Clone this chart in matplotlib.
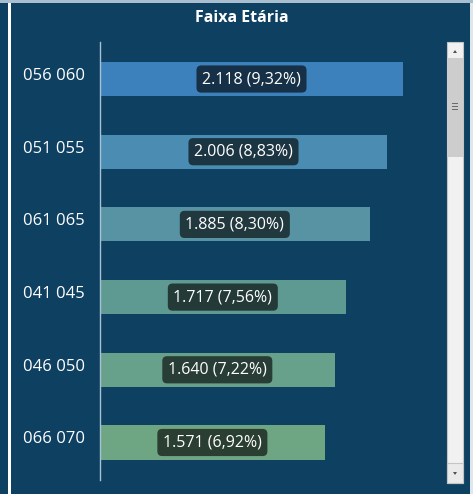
import matplotlib
matplotlib.use('Agg')
import matplotlib.pyplot as plt
from matplotlib.patches import Rectangle, Polygon

faixas = ['056 060', '051 055', '061 065', '041 045', '046 050', '066 070']
valores = [2118, 2006, 1885, 1717, 1640, 1571]
percent = ['9,32%', '8,83%', '8,30%', '7,56%', '7,22%', '6,92%']
cores = ['#3c81bb', '#4a8cb2', '#5893a4', '#5f9a92', '#68a18b', '#6ea684']

bg = '#0e4062'
W, H = 473, 494

fig = plt.figure(figsize=(W / 100, H / 100), dpi=100, facecolor=bg)
plt.rcParams['font.family'] = ['Open Sans', 'DejaVu Sans']


def px(x0, y0, x1, y1):
    # pixel box -> figure fraction rect
    return [x0 / W, 1 - y1 / H, (x1 - x0) / W, (y1 - y0) / H]


def rect(x0, y0, x1, y1, **kw):
    r = px(x0, y0, x1, y1)
    fig.patches.append(Rectangle((r[0], r[1]), r[2], r[3],
                                 transform=fig.transFigure, **kw))


ax = fig.add_axes(px(100, 42, 430, 480))
ax.set_facecolor(bg)
pos = list(range(len(faixas)))
ax.barh(pos, valores, height=0.47, color=cores)
ax.set_xlim(0, 330 / 0.14306)
ax.set_ylim(5.516, -0.509)

for i, v in enumerate(valores):
    txt = f'{v / 1000:.3f} ({percent[i]})'
    t = ax.text(v / 2, i, txt, ha='center', va='center', color='white',
                fontsize=11.5,
                bbox=dict(boxstyle='round,pad=0.35,rounding_size=0.3',
                          fc='black', ec='none'))
    t.get_bbox_patch().set_alpha(0.62)

# category labels sit a little above the bar centre
ax.set_yticks([p - 0.07 for p in pos])
ax.set_yticklabels(faixas, color='white', fontsize=12)
ax.tick_params(axis='y', length=0, pad=11)
ax.set_xticks([])
for s in ['top', 'right', 'bottom']:
    ax.spines[s].set_visible(False)
ax.spines['left'].set_color('#a8c0d4')
ax.spines['left'].set_linewidth(1)

fig.text(242 / W, 1 - 18 / H, 'Faixa Etária', ha='center', va='center',
         color='white', fontsize=11.5, fontweight='bold')

# frame lines
rect(0, 0, W, 3, fc='#a9bfd0', ec='none')
rect(8, 3, 11, H, fc='white', ec='none')
rect(470, 3, W, H, fc='#dfe6ec', ec='none')

# scrollbar
rect(447, 42, 463, 483, fc='#f1f1f1', ec='#c4c4c4', lw=0.8)
rect(447, 58, 463, 157, fc='#cdcdcd', ec='none')
for yy in [103, 106, 109]:
    rect(452, yy, 458, yy + 1, fc='#6a6a6a', ec='none')
fig.patches.append(Polygon([(453 / W, 1 - 53 / H), (457 / W, 1 - 53 / H), (455 / W, 1 - 50 / H)],
                           closed=True, transform=fig.transFigure, fc='#505050', ec='none'))
rect(447, 463, 463, 483, fc='#eaeaea', ec='#c4c4c4', lw=0.8)
fig.patches.append(Polygon([(453 / W, 1 - 472 / H), (457 / W, 1 - 472 / H), (455 / W, 1 - 475 / H)],
                           closed=True, transform=fig.transFigure, fc='#505050', ec='none'))

fig.savefig('out.png', dpi=100, facecolor=bg)
